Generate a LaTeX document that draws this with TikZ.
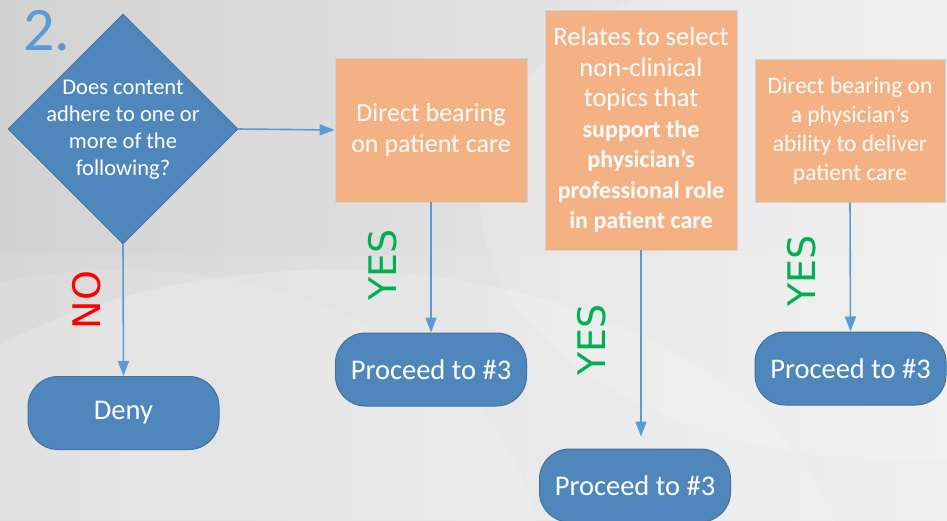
\documentclass[tikz,border=0pt]{standalone}
\usepackage{fontspec}
\setmainfont{Carlito}
\newfontfamily\yesfont{DejaVu Sans}
\usetikzlibrary{shapes.geometric,arrows.meta}
\definecolor{bgdark}{HTML}{D2D2D2}
\definecolor{bglight}{HTML}{EEEEEE}
\definecolor{flowblue}{HTML}{4F87BD}
\definecolor{flowedge}{HTML}{41719C}
\definecolor{arrowblue}{HTML}{5B9BD5}
\definecolor{boxorange}{HTML}{F4B183}
\definecolor{yesgreen}{HTML}{00B050}
\newcommand{\boldline}[1]{{\fontsize{24}{30.5}\selectfont\bfseries #1}}
\tikzset{
  decision/.style={shape=diamond, aspect=1, minimum width=230pt, minimum height=230pt, inner sep=0pt, fill=flowblue, draw=flowedge, line width=0.8pt},
  optionbox/.style={rectangle, fill=boxorange, draw=gray!35, line width=0.8pt, text=white, align=center, inner sep=0pt},
  endbox/.style={rectangle, rounded corners=30pt, fill=flowblue, draw=flowedge, line width=1pt, text=white, minimum width=191pt, minimum height=73pt, inner sep=0pt, font=\fontsize{28.5}{33}\selectfont},
  flowarrow/.style={draw=arrowblue, line width=1.6pt, -{Triangle[length=15pt,width=11pt]}},
  yeslabel/.style={text=yesgreen, rotate=90, font=\yesfont\fontsize{38}{40}\selectfont, inner sep=0pt},
  nolabel/.style={text=red, rotate=90, font=\yesfont\fontsize{38}{40}\selectfont, inner sep=0pt},
}
\begin{document}
\begin{tikzpicture}[x=1pt,y=-1pt]
\useasboundingbox (0,0) rectangle (947,520);
% background
\shade[left color=bgdark, right color=bglight] (0,0) rectangle (947,520);
\begin{scope}
\clip (0,0) rectangle (947,520);
\fill[white, opacity=0.18] (330,600) ellipse (520pt and 330pt);
\fill[white, opacity=0.15] (900,200) ellipse (420pt and 260pt);
\fill[white, opacity=0.12] (120,560) ellipse (420pt and 290pt);
\fill[white, opacity=0.10] (0,255) rectangle (947,520);
\end{scope}
% title number
\node[text=arrowblue, font=\fontsize{62}{66}\selectfont, inner sep=0pt] (num) at (47,31) {2.};
% decision
\node[decision] (dia) at (123,129) {};
\node[text=white, align=center, font=\fontsize{22.5}{27}\selectfont, inner sep=0pt] (diatext) at (123,130)
  {Does content\\adhere to one or\\more of the\\following?};
% option boxes
\node[optionbox, minimum width=192pt, minimum height=144pt, font=\fontsize{26}{31}\selectfont] (box1) at (431,130)
  {Direct bearing\\on patient care};
\node[optionbox, minimum width=192pt, minimum height=240pt, font=\fontsize{26.5}{30.5}\selectfont] (box2) at (641,130)
  {Relates to select\\non-clinical\\topics that\\\boldline{support the}\\\boldline{physician’s}\\\boldline{professional role}\\\boldline{in patient care}};
\node[optionbox, minimum width=190pt, minimum height=143pt, font=\fontsize{23.5}{29}\selectfont] (box3) at (850,130.5)
  {Direct bearing on\\a physician’s\\ability to deliver\\patient care};
% terminals
\node[endbox] (deny) at (123.5,413) {Deny};
\node[endbox] (t1) at (431,369.5) {Proceed to \#3};
\node[endbox] (t2) at (635,485.5) {Proceed to \#3};
\node[endbox] (t3) at (850.5,368.5) {Proceed to \#3};
% connectors
\draw[flowarrow] (dia.east) -- (box1.west);
\draw[flowarrow] (dia.south) -- (deny.north);
\draw[flowarrow] (box1.south) -- (t1.north);
\draw[flowarrow, shorten >=12pt] (box2.south) -- (box2.south |- t2.north);
\draw[flowarrow] (box3.south) -- (t3.north);
% labels
\node[nolabel] (no) at (87,300) {NO};
\node[yeslabel] (yes1) at (383,265) {YES};
\node[yeslabel] (yes2) at (592,340) {YES};
\node[yeslabel] (yes3) at (802,271) {YES};
\end{tikzpicture}
\end{document}
